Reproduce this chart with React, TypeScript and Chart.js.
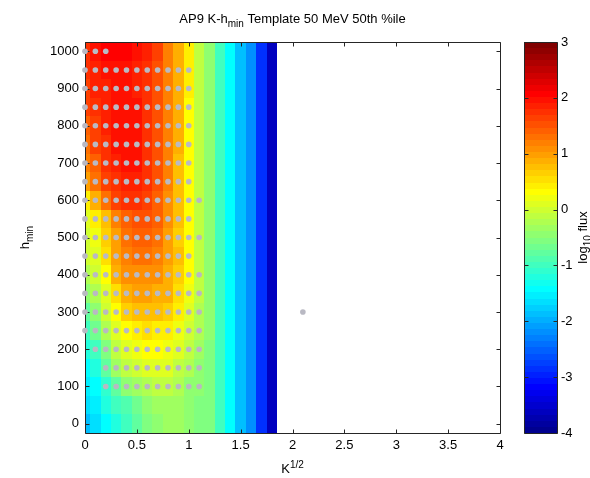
import React, { useEffect, useRef } from 'react';
import { Chart, registerables } from 'chart.js';

Chart.register(...registerables);

// ---- data ----
const kCenters = [0, 0.1, 0.2, 0.3, 0.4, 0.5, 0.6, 0.7, 0.8, 0.9, 1.0, 1.1, 1.2, 1.3, 1.4, 1.5, 1.6, 1.7, 1.8];
const hCenters = [1000, 950, 900, 850, 800, 750, 700, 650, 600, 550, 500, 450, 400, 350, 300, 250, 200, 150, 100, 50, 0];

// log10 flux, rows follow hCenters (top to bottom), columns follow kCenters
const logFlux: number[][] = [
  [1.78, 2.0, 2.05, 2.05, 2.05, 2.0, 1.8, 1.58, 1.23, 0.82, 0.38, -0.07, -0.5, -0.95, -1.38, -1.82, -2.25, -2.9, -3.6],
  [1.7, 1.86, 1.93, 1.96, 1.96, 1.9, 1.72, 1.5, 1.2, 0.82, 0.38, -0.07, -0.5, -0.95, -1.38, -1.82, -2.25, -2.9, -3.6],
  [1.64, 1.82, 1.9, 1.95, 1.96, 1.9, 1.74, 1.5, 1.2, 0.82, 0.38, -0.07, -0.5, -0.95, -1.38, -1.82, -2.25, -2.9, -3.6],
  [1.58, 1.78, 1.88, 1.95, 2.0, 1.95, 1.76, 1.52, 1.2, 0.82, 0.37, -0.07, -0.5, -0.95, -1.38, -1.82, -2.25, -2.9, -3.6],
  [1.44, 1.68, 1.85, 1.95, 2.0, 1.96, 1.78, 1.55, 1.22, 0.82, 0.36, -0.08, -0.5, -0.95, -1.38, -1.82, -2.25, -2.9, -3.6],
  [1.3, 1.58, 1.78, 1.92, 1.98, 1.95, 1.78, 1.55, 1.22, 0.82, 0.35, -0.08, -0.5, -0.95, -1.38, -1.82, -2.25, -2.9, -3.6],
  [1.16, 1.45, 1.7, 1.85, 1.95, 1.92, 1.78, 1.55, 1.2, 0.8, 0.33, -0.09, -0.5, -0.95, -1.38, -1.82, -2.25, -2.9, -3.6],
  [0.96, 1.3, 1.6, 1.78, 1.88, 1.88, 1.75, 1.5, 1.18, 0.8, 0.3, -0.1, -0.5, -0.95, -1.38, -1.82, -2.25, -2.9, -3.6],
  [0.42, 0.9, 1.3, 1.6, 1.75, 1.78, 1.68, 1.46, 1.14, 0.77, 0.3, -0.1, -0.5, -0.95, -1.38, -1.82, -2.25, -2.9, -3.6],
  [0.05, 0.4, 0.8, 1.15, 1.38, 1.5, 1.5, 1.36, 1.1, 0.72, 0.3, -0.1, -0.5, -0.95, -1.38, -1.82, -2.25, -2.9, -3.6],
  [-0.05, 0.2, 0.62, 0.98, 1.25, 1.38, 1.38, 1.25, 1.0, 0.68, 0.32, -0.1, -0.5, -0.95, -1.38, -1.82, -2.25, -2.9, -3.6],
  [-0.05, 0.13, 0.5, 0.95, 1.18, 1.25, 1.25, 1.18, 1.0, 0.72, 0.35, -0.1, -0.5, -0.95, -1.38, -1.82, -2.25, -2.9, -3.6],
  [-0.18, 0.0, 0.3, 0.85, 1.05, 1.1, 1.1, 1.05, 0.92, 0.62, 0.33, -0.1, -0.5, -0.95, -1.38, -1.82, -2.25, -2.9, -3.6],
  [-0.5, -0.22, 0.15, 0.55, 0.88, 0.95, 0.95, 0.9, 0.82, 0.58, 0.25, -0.15, -0.5, -0.95, -1.38, -1.82, -2.25, -2.9, -3.6],
  [-0.78, -0.5, -0.05, 0.35, 0.62, 0.72, 0.75, 0.72, 0.62, 0.48, 0.13, -0.2, -0.5, -0.95, -1.38, -1.82, -2.25, -2.9, -3.6],
  [-1.0, -0.7, -0.25, 0.1, 0.36, 0.46, 0.5, 0.48, 0.4, 0.2, 0.0, -0.25, -0.5, -0.95, -1.38, -1.82, -2.25, -2.9, -3.6],
  [-1.2, -0.96, -0.55, -0.12, 0.1, 0.22, 0.28, 0.3, 0.25, 0.1, -0.15, -0.35, -0.52, -0.95, -1.38, -1.82, -2.25, -2.9, -3.6],
  [-1.4, -1.2, -0.75, -0.35, -0.15, -0.02, 0.05, 0.06, 0.05, -0.07, -0.28, -0.42, -0.55, -0.95, -1.38, -1.82, -2.25, -2.9, -3.6],
  [-1.55, -1.4, -1.05, -0.75, -0.5, -0.35, -0.22, -0.15, -0.15, -0.25, -0.4, -0.5, -0.56, -0.95, -1.38, -1.82, -2.25, -2.9, -3.6],
  [-1.7, -1.55, -1.25, -1.0, -0.83, -0.66, -0.5, -0.35, -0.3, -0.38, -0.5, -0.55, -0.58, -0.95, -1.38, -1.82, -2.25, -2.9, -3.6],
  [-1.82, -1.68, -1.48, -1.2, -0.96, -0.76, -0.6, -0.45, -0.3, -0.38, -0.48, -0.52, -0.58, -0.95, -1.38, -1.82, -2.25, -2.9, -3.6],
];

// template sample points (gray markers)
const samples1000 = [0, 0.1, 0.2];
const samplesUpTo10 = [0, 0.1, 0.2, 0.3, 0.4, 0.5, 0.6, 0.7, 0.8, 0.9, 1.0];
const samplesUpTo11 = [0, 0.1, 0.2, 0.3, 0.4, 0.5, 0.6, 0.7, 0.8, 0.9, 1.0, 1.1];
const samples200 = [0.1, 0.2, 0.3, 0.4, 0.5, 0.6, 0.7, 0.8, 0.9, 1.0, 1.1];
const samplesLow = [0.2, 0.3, 0.4, 0.5, 0.6, 0.7, 0.8, 0.9, 1.0, 1.1];
const sampleRows: [number, number[]][] = [
  [1000, samples1000],
  [950, samplesUpTo10], [900, samplesUpTo10], [850, samplesUpTo10], [800, samplesUpTo10],
  [750, samplesUpTo10], [700, samplesUpTo10], [650, samplesUpTo10],
  [600, samplesUpTo11], [550, samplesUpTo10], [500, samplesUpTo11], [450, samplesUpTo10],
  [400, samplesUpTo11], [350, samplesUpTo11], [300, [...samplesUpTo11, 2.1]], [250, samplesUpTo11],
  [200, samples200], [150, samplesLow], [100, samplesLow],
];

const cMin = -4;
const cMax = 3;
const FONT = '"Liberation Sans", Arial, Helvetica, sans-serif';

// MATLAB jet(m)
function jetMap(m: number): number[][] {
  const n = Math.ceil(m / 4);
  const u: number[] = [];
  for (let i = 1; i <= n; i++) u.push(i / n);
  for (let i = 0; i < n - 1; i++) u.push(1);
  for (let i = n; i >= 1; i--) u.push(i / n);
  const gOff = Math.ceil(n / 2) - (m % 4 === 1 ? 1 : 0);
  const J = Array.from({ length: m }, () => [0, 0, 0]);
  for (let i = 0; i < u.length; i++) {
    const g = gOff + i + 1;
    const r = g + n;
    const b = g - n;
    if (g >= 1 && g <= m) J[g - 1][1] = u[i];
    if (r >= 1 && r <= m) J[r - 1][0] = u[i];
    if (b >= 1 && b <= m) J[b - 1][2] = u[i];
  }
  return J;
}
const JET = jetMap(64);
const jetCss = (i: number) => {
  const c = JET[Math.max(0, Math.min(63, i))];
  return `rgb(${Math.round(c[0] * 255)},${Math.round(c[1] * 255)},${Math.round(c[2] * 255)})`;
};
const colorFor = (v: number) => jetCss(Math.floor(((v - cMin) / (cMax - cMin)) * 64));

type Part = { t: string; s?: 'sub' | 'sup' };
function drawRich(ctx: CanvasRenderingContext2D, parts: Part[], x: number, y: number, size: number) {
  const small = Math.round(size * 0.78);
  const widths = parts.map((p) => {
    ctx.font = `${p.s ? small : size}px ${FONT}`;
    return ctx.measureText(p.t).width;
  });
  const total = widths.reduce((a, b) => a + b, 0);
  let cx = x - total / 2;
  ctx.textBaseline = 'alphabetic';
  ctx.textAlign = 'left';
  parts.forEach((p, i) => {
    ctx.font = `${p.s ? small : size}px ${FONT}`;
    const dy = p.s === 'sub' ? size * 0.3 : p.s === 'sup' ? -size * 0.42 : 0;
    ctx.fillText(p.t, cx, y + dy);
    cx += widths[i];
  });
}

const AXIS_COLOR = '#262626';
const TICK_LEN = 4;
const plainLabel = (v: any) => String(Math.round(Number(v) * 100) / 100);

const heatmapPlugin = {
  id: 'heatmap',
  beforeDatasetsDraw(chart: any) {
    const { ctx, chartArea: a, scales } = chart;
    const xs = scales.x;
    const ys = scales.y;
    const dk = kCenters[1] - kCenters[0];
    const dh = hCenters[0] - hCenters[1];
    ctx.save();
    ctx.beginPath();
    ctx.rect(a.left, a.top, a.right - a.left, a.bottom - a.top);
    ctx.clip();
    hCenters.forEach((h, ri) => {
      kCenters.forEach((k, ci) => {
        const x0 = xs.getPixelForValue(k - dk / 2);
        const x1 = xs.getPixelForValue(k + dk / 2);
        const y0 = ys.getPixelForValue(h + dh / 2);
        const y1 = ys.getPixelForValue(h - dh / 2);
        ctx.fillStyle = colorFor(logFlux[ri][ci]);
        const L = Math.round(x0), R = Math.round(x1), T = Math.round(y0), B = Math.round(y1);
        ctx.fillRect(L, T, R - L, B - T);
      });
    });
    ctx.restore();

    // box and inward ticks
    ctx.save();
    ctx.strokeStyle = AXIS_COLOR;
    ctx.lineWidth = 1;
    const l = Math.round(a.left) + 0.5, r = Math.round(a.right) + 0.5;
    const t = Math.round(a.top) + 0.5, b = Math.round(a.bottom) + 0.5;
    ctx.beginPath();
    ctx.rect(l, t, r - l, b - t);
    xs.ticks.forEach((tk: any) => {
      const px = Math.round(xs.getPixelForValue(tk.value)) + 0.5;
      ctx.moveTo(px, b); ctx.lineTo(px, b - TICK_LEN);
      ctx.moveTo(px, t); ctx.lineTo(px, t + TICK_LEN);
    });
    ys.ticks.forEach((tk: any) => {
      const py = Math.round(ys.getPixelForValue(tk.value)) + 0.5;
      ctx.moveTo(l, py); ctx.lineTo(l + TICK_LEN, py);
      ctx.moveTo(r, py); ctx.lineTo(r - TICK_LEN, py);
    });
    ctx.stroke();
    ctx.restore();
  },
  afterDraw(chart: any) {
    const { ctx, chartArea: a } = chart;
    const cx = (a.left + a.right) / 2;
    ctx.save();
    ctx.fillStyle = '#000';
    drawRich(ctx, [{ t: 'AP9 K-h' }, { t: 'min', s: 'sub' }, { t: ' Template 50 MeV 50th %ile' }], cx, 23, 13);
    drawRich(ctx, [{ t: 'K' }, { t: '1/2', s: 'sup' }], cx, 473, 13);
    ctx.translate(29, (a.top + a.bottom) / 2);
    ctx.rotate(-Math.PI / 2);
    drawRich(ctx, [{ t: 'h' }, { t: 'min', s: 'sub' }], 0, 0, 13);
    ctx.restore();
  },
};

const colorbarPlugin = {
  id: 'colorbar',
  beforeDatasetsDraw(chart: any) {
    const { ctx, chartArea: a, scales } = chart;
    const ys = scales.y;
    ctx.save();
    for (let i = 0; i < 64; i++) {
      const v0 = cMin + (i * (cMax - cMin)) / 64;
      const v1 = cMin + ((i + 1) * (cMax - cMin)) / 64;
      const T = Math.round(ys.getPixelForValue(v1));
      const B = Math.round(ys.getPixelForValue(v0));
      ctx.fillStyle = jetCss(i);
      ctx.fillRect(Math.round(a.left), T, Math.round(a.right) - Math.round(a.left), B - T);
    }
    ctx.strokeStyle = AXIS_COLOR;
    ctx.lineWidth = 1;
    const l = Math.round(a.left) + 0.5, r = Math.round(a.right) + 0.5;
    const t = Math.round(a.top) + 0.5, b = Math.round(a.bottom) + 0.5;
    ctx.beginPath();
    ctx.rect(l, t, r - l, b - t);
    ys.ticks.forEach((tk: any) => {
      const py = Math.round(ys.getPixelForValue(tk.value)) + 0.5;
      ctx.moveTo(l, py); ctx.lineTo(l + TICK_LEN, py);
      ctx.moveTo(r, py); ctx.lineTo(r - TICK_LEN, py);
    });
    ctx.stroke();
    ctx.fillStyle = '#000';
    ctx.translate(587, (a.top + a.bottom) / 2);
    ctx.rotate(-Math.PI / 2);
    drawRich(ctx, [{ t: 'log' }, { t: '10', s: 'sub' }, { t: ' flux' }], 0, 0, 13);
    ctx.restore();
  },
};

export default function App() {
  const mainRef = useRef<HTMLCanvasElement>(null);
  const cbRef = useRef<HTMLCanvasElement>(null);

  useEffect(() => {
    const points: { x: number; y: number }[] = [];
    sampleRows.forEach(([h, ks]) => ks.forEach((k) => points.push({ x: k, y: h })));

    const tickFont = { family: FONT, size: 13 };

    const main = new Chart(mainRef.current!, {
      type: 'scatter',
      data: {
        datasets: [
          {
            data: points,
            pointStyle: 'circle',
            pointRadius: 2.8,
            backgroundColor: '#b9b9c3',
            borderWidth: 0,
            clip: false as any,
          },
        ],
      },
      options: {
        animation: false,
        responsive: false,
        maintainAspectRatio: false,
        layout: { padding: { top: 42, right: 90, left: 0, bottom: 0 } },
        plugins: { legend: { display: false }, tooltip: { enabled: false } },
        scales: {
          x: {
            type: 'linear',
            min: 0,
            max: 4,
            ticks: { stepSize: 0.5, color: '#000', font: tickFont, padding: 5, maxRotation: 0, autoSkip: false, callback: plainLabel },
            grid: { display: false, drawTicks: false },
            border: { display: false },
            afterFit: (s: any) => { s.height = 45; },
          },
          y: {
            type: 'linear',
            min: -25,
            max: 1025,
            ticks: { stepSize: 100, includeBounds: false, color: '#000', font: tickFont, padding: 6, autoSkip: false, callback: plainLabel },
            grid: { display: false, drawTicks: false },
            border: { display: false },
            afterFit: (s: any) => { s.width = 85; },
          },
        },
      },
      plugins: [heatmapPlugin],
    } as any);

    const cb = new Chart(cbRef.current!, {
      type: 'scatter',
      data: { datasets: [{ data: [] }] },
      options: {
        animation: false,
        responsive: false,
        maintainAspectRatio: false,
        layout: { padding: { top: 42, right: 0, left: 524, bottom: 45 } },
        plugins: { legend: { display: false }, tooltip: { enabled: false } },
        scales: {
          x: { type: 'linear', display: false, min: 0, max: 1 },
          y: {
            type: 'linear',
            position: 'right',
            min: cMin,
            max: cMax,
            ticks: { stepSize: 1, color: '#000', font: tickFont, padding: 4, autoSkip: false, callback: plainLabel },
            grid: { display: false, drawTicks: false },
            border: { display: false },
            afterFit: (s: any) => { s.width = 33; },
          },
        },
      },
      plugins: [colorbarPlugin],
    } as any);

    return () => {
      main.destroy();
      cb.destroy();
    };
  }, []);

  return (
    <div style={{ position: 'absolute', left: 0, top: 0, width: 590, height: 478, background: '#fff' }}>
      <canvas ref={mainRef} width={590} height={478} style={{ position: 'absolute', left: 0, top: 0 }} />
      <canvas ref={cbRef} width={590} height={478} style={{ position: 'absolute', left: 0, top: 0 }} />
    </div>
  );
}
